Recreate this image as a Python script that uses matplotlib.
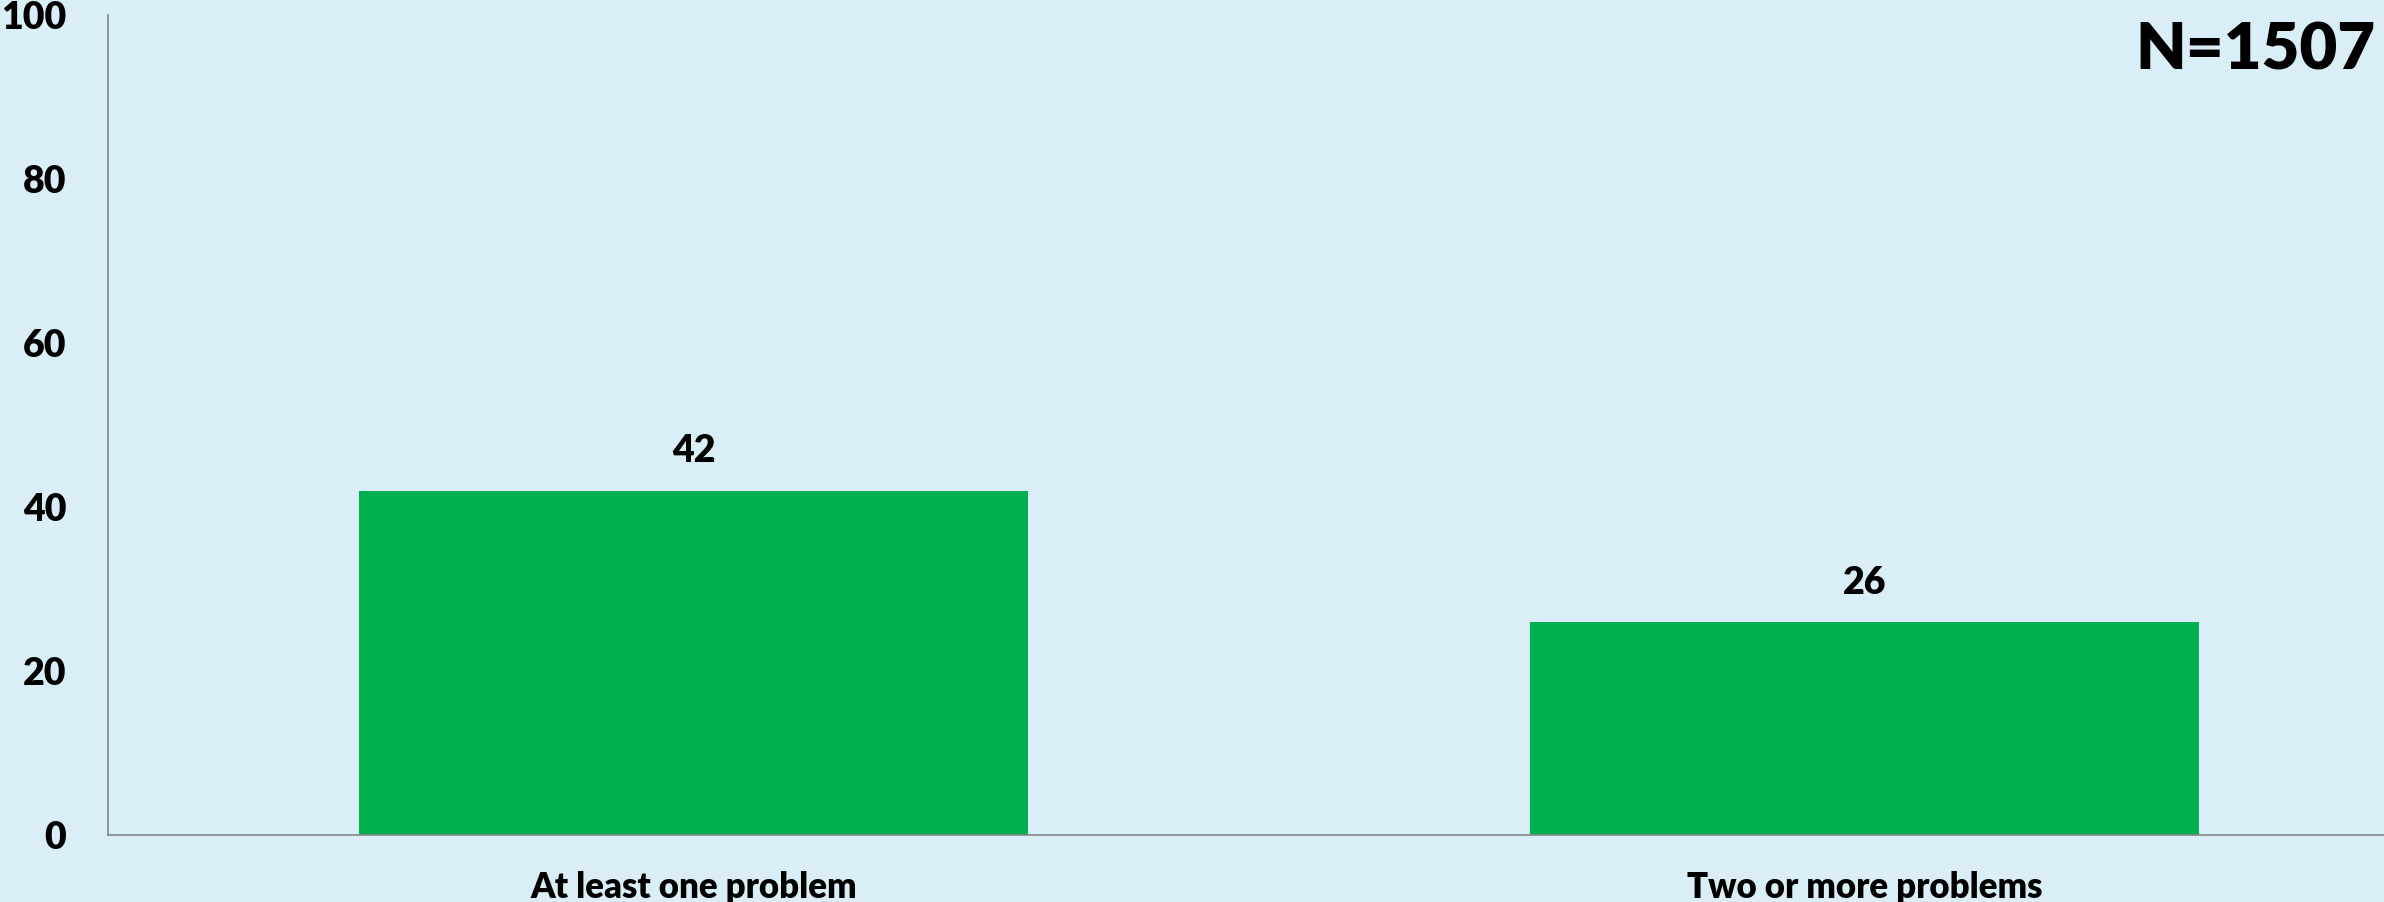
import matplotlib.pyplot as plt

categorias = ["At least one problem", "Two or more problems"]
porcentajes = [42, 26]
ticks_y = [0, 20, 40, 60, 80, 100]
total_n = 1507

fondo = "#DAEEF7"
verde = "#00B050"
peso = "heavy"

plt.rcParams["font.family"] = ["Lato", "DejaVu Sans"]
plt.rcParams["font.weight"] = peso

fig = plt.figure(figsize=(23.84, 9.02), dpi=100, facecolor=fondo)
ax = fig.add_axes([108 / 2384, 1 - 835 / 902, (2450 - 108) / 2384, (835 - 15) / 902])
ax.set_facecolor(fondo)

x = range(len(categorias))
barras = ax.bar(x, porcentajes, width=0.571, color=verde, zorder=2)

for barra, valor in zip(barras, porcentajes):
    ax.annotate(f"{valor}", (barra.get_x() + barra.get_width() / 2, valor),
                xytext=(0, 16), textcoords="offset points",
                ha="center", va="bottom", fontsize=27, fontweight=peso)

ax.set_xlim(-0.5, len(categorias) - 0.5)
ax.set_ylim(0, 100)
ax.set_yticks(ticks_y)
ax.set_xticks(list(x))
ax.set_xticklabels(categorias, fontsize=25, fontweight=peso)
ax.tick_params(axis="y", length=0, pad=30, labelsize=27)
ax.tick_params(axis="x", length=0, pad=26)

for lado in ["top", "right"]:
    ax.spines[lado].set_visible(False)
for lado in ["left", "bottom"]:
    ax.spines[lado].set_color("#868686")
    ax.spines[lado].set_linewidth(1.2)

fig.text(2375 / 2384, 1 - 22 / 902, f"N={total_n}", ha="right", va="top",
         fontsize=47, fontweight=peso)

fig.savefig("out.png", dpi=100, facecolor=fondo)
